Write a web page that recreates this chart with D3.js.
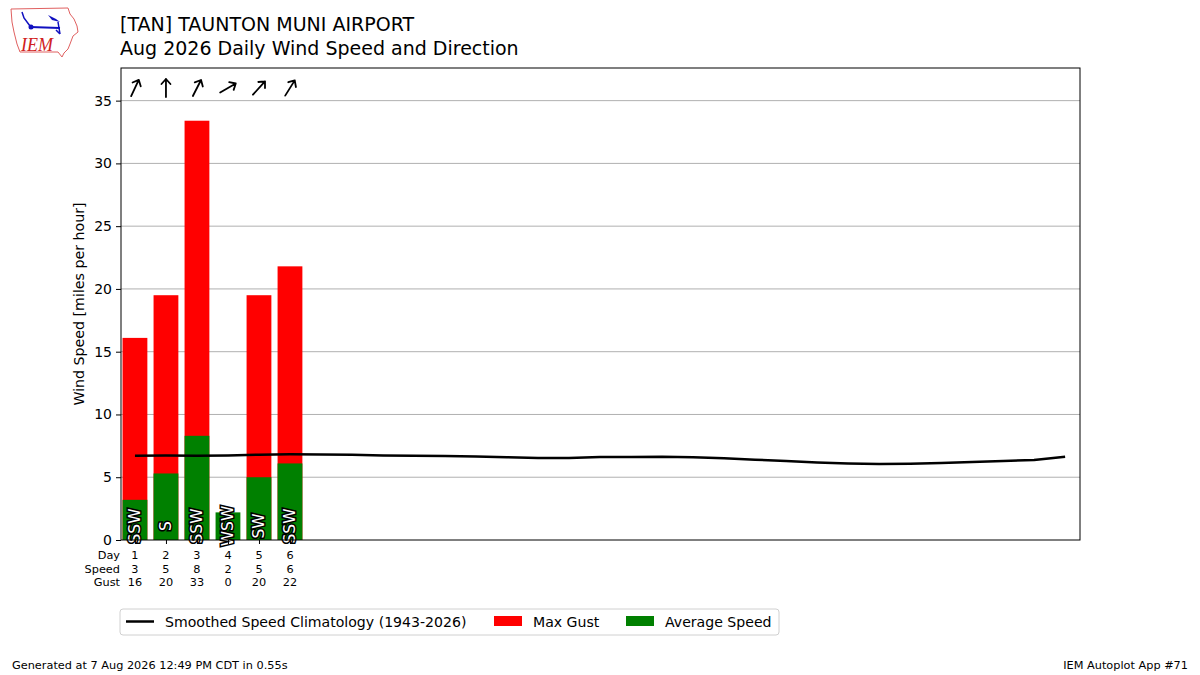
<!DOCTYPE html>
<html>
<head>
<meta charset="utf-8">
<script src="https://cdn.jsdelivr.net/npm/d3@7"></script>
<style>
  body { margin: 0; background: #fff; }
  svg { font-family: "DejaVu Sans", sans-serif; }
</style>
</head>
<body>
<svg id="chart" width="1200" height="675"></svg>
<script>
// données
const days = [1, 2, 3, 4, 5, 6];
const avgSpeed = [3.2, 5.3, 8.3, 2.2, 5.0, 6.1];
const maxGust = [16.1, 19.5, 33.4, 0, 19.5, 21.8];
const dirFrom = [205, 180, 207, 240, 222, 212];
const dirText = ["SSW", "S", "SSW", "WSW", "SW", "SSW"];
const speedLabels = ["3", "5", "8", "2", "5", "6"];
const gustLabels = ["16", "20", "33", "0", "20", "22"];

const climoDays = d3.range(1, 32);
const climoSpeed = [6.72, 6.74, 6.71, 6.74, 6.79, 6.83, 6.82, 6.79, 6.74, 6.71,
                    6.70, 6.66, 6.60, 6.54, 6.54, 6.62, 6.62, 6.64, 6.60, 6.52,
                    6.40, 6.30, 6.18, 6.10, 6.06, 6.08, 6.14, 6.22, 6.30, 6.38, 6.64];

const yTicks = [0, 5, 10, 15, 20, 25, 30, 35];

const svg = d3.select("#chart");
const margin = { top: 68, bottom: 135, left: 121, right: 120 };
const width = 1200, height = 675;

const x = d3.scaleLinear()
  .domain([0.55, 31.48])
  .range([margin.left, width - margin.right]);

const y = d3.scaleLinear()
  .domain([0, 37.6])
  .range([height - margin.bottom, margin.top]);

const barW = x(1.4) - x(0.6);

// grille
svg.append("g")
  .selectAll("line")
  .data(yTicks.slice(1))
  .join("line")
  .attr("x1", x.range()[0]).attr("x2", x.range()[1])
  .attr("y1", d => y(d)).attr("y2", d => y(d))
  .attr("stroke", "#b0b0b0").attr("stroke-width", 1);

// barres : rafale puis vitesse moyenne par-dessus
svg.append("g")
  .selectAll("rect")
  .data(days)
  .join("rect")
  .attr("x", (d, i) => x(d) - barW / 2)
  .attr("y", (d, i) => y(maxGust[i]))
  .attr("width", barW)
  .attr("height", (d, i) => y(0) - y(maxGust[i]))
  .attr("fill", "#ff0000");

svg.append("g")
  .selectAll("rect")
  .data(days)
  .join("rect")
  .attr("x", (d, i) => x(d) - barW / 2)
  .attr("y", (d, i) => y(avgSpeed[i]))
  .attr("width", barW)
  .attr("height", (d, i) => y(0) - y(avgSpeed[i]))
  .attr("fill", "#008000");

// climatologie
const line = d3.line()
  .x((d, i) => x(climoDays[i]))
  .y(d => y(d));

svg.append("path")
  .datum(climoSpeed)
  .attr("d", line)
  .attr("fill", "none")
  .attr("stroke", "#000")
  .attr("stroke-width", 2.5)
  .attr("stroke-linejoin", "round");

// texte de direction
svg.append("g")
  .selectAll("text")
  .data(days)
  .join("text")
  .attr("transform", d => `translate(${x(d)},${y(0) - 14}) rotate(-90)`)
  .attr("text-anchor", "middle")
  .attr("dominant-baseline", "central")
  .attr("font-size", 15.5)
  .attr("fill", "#fff")
  .attr("stroke", "#000")
  .attr("stroke-width", 3)
  .attr("paint-order", "stroke")
  .text((d, i) => dirText[i]);

// flèches de direction
svg.append("g")
  .selectAll("path")
  .data(days)
  .join("path")
  .attr("transform", (d, i) => `translate(${x(d)},88) rotate(${dirFrom[i] - 180})`)
  .attr("d", "M0,9 L0,-9 M-4.5,-4 L0,-9 L4.5,-4")
  .attr("fill", "none")
  .attr("stroke", "#000")
  .attr("stroke-width", 1.8)
  .attr("stroke-linecap", "round")
  .attr("stroke-linejoin", "round");

// axes
const yAxis = d3.axisLeft(y).tickValues(yTicks).tickSize(5).tickPadding(4);
svg.append("g")
  .attr("transform", `translate(${x.range()[0]},0)`)
  .call(yAxis)
  .call(g => g.select(".domain").remove())
  .selectAll("text")
  .attr("font-size", 14)
  .attr("font-family", "DejaVu Sans");

const xAxis = d3.axisBottom(x).tickValues(days).tickSize(4).tickFormat("");
svg.append("g")
  .attr("transform", `translate(0,${y(0)})`)
  .call(xAxis)
  .call(g => g.select(".domain").remove());

// cadre
svg.append("rect")
  .attr("x", x.range()[0]).attr("y", y.range()[1])
  .attr("width", x.range()[1] - x.range()[0])
  .attr("height", y.range()[0] - y.range()[1])
  .attr("fill", "none").attr("stroke", "#000").attr("stroke-width", 1);

// lignes Day / Speed / Gust sous l'axe
const rows = [["Day", days.map(String)], ["Speed", speedLabels], ["Gust", gustLabels]];
rows.forEach((r, k) => {
  const yy = y(0) + 19 + k * 13.5;
  svg.append("text")
    .attr("x", x.range()[0] - 1).attr("y", yy)
    .attr("text-anchor", "end").attr("font-size", 11.3)
    .text(r[0]);
  svg.append("g")
    .selectAll("text")
    .data(days)
    .join("text")
    .attr("x", d => x(d)).attr("y", yy)
    .attr("text-anchor", "middle").attr("font-size", 11.3)
    .text((d, i) => r[1][i]);
});

// titre de l'axe Y
svg.append("text")
  .attr("transform", `translate(84,${(y.range()[0] + y.range()[1]) / 2}) rotate(-90)`)
  .attr("text-anchor", "middle")
  .attr("font-size", 14.2)
  .text("Wind Speed [miles per hour]");

// titres
svg.append("text").attr("x", 120).attr("y", 31).attr("font-size", 19)
  .text("[TAN] TAUNTON MUNI AIRPORT");
svg.append("text").attr("x", 120).attr("y", 55).attr("font-size", 19)
  .text("Aug 2026 Daily Wind Speed and Direction");

// légende
const leg = svg.append("g").attr("transform", "translate(120,609)");
leg.append("rect").attr("width", 659).attr("height", 26).attr("rx", 3)
  .attr("fill", "#fff").attr("stroke", "#d0d0d0");
leg.append("line").attr("x1", 6).attr("x2", 34).attr("y1", 12.5).attr("y2", 12.5)
  .attr("stroke", "#000").attr("stroke-width", 2.5);
leg.append("text").attr("x", 45).attr("y", 17.5).attr("font-size", 14.1)
  .text("Smoothed Speed Climatology (1943-2026)");
leg.append("rect").attr("x", 374).attr("y", 7).attr("width", 28).attr("height", 10).attr("fill", "#ff0000");
leg.append("text").attr("x", 413).attr("y", 17.5).attr("font-size", 14.1).text("Max Gust");
leg.append("rect").attr("x", 506).attr("y", 7).attr("width", 28).attr("height", 10).attr("fill", "#008000");
leg.append("text").attr("x", 545).attr("y", 17.5).attr("font-size", 14.1).text("Average Speed");

// pied de page
svg.append("text").attr("x", 12).attr("y", 669).attr("font-size", 11.3)
  .text("Generated at 7 Aug 2026 12:49 PM CDT in 0.55s");
svg.append("text").attr("x", 1188).attr("y", 669).attr("font-size", 11.3)
  .attr("text-anchor", "end").text("IEM Autoplot App #71");

// logo IEM (approximatif)
const logo = svg.append("g");
logo.append("path")
  .attr("d", "M11,9 L68,8 L70,14 L74,19 L77,26 L78,32 L73,36 L70,44 L68,49 L64,53 L62,57 L58,52 L20,52 L17,44 L14,32 L12,22 Z")
  .attr("fill", "none").attr("stroke", "#e06060").attr("stroke-width", 1);
logo.append("line").attr("x1", 30).attr("x2", 60).attr("y1", 27).attr("y2", 28)
  .attr("stroke", "#1010c0").attr("stroke-width", 2);
logo.append("circle").attr("cx", 31).attr("cy", 27).attr("r", 2.5).attr("fill", "#1010c0");
logo.append("path").attr("d", "M48,15 L56,19 L60,22 L52,20 Z").attr("fill", "#1010c0");
logo.append("path").attr("d", "M22,12 L24,18 L30,26 M58,22 L60,34 M56,30 L60,34")
  .attr("fill", "none").attr("stroke", "#1010c0").attr("stroke-width", 1.5);
logo.append("text").attr("x", 21).attr("y", 51).attr("font-size", 18)
  .attr("font-family", "Liberation Serif").attr("font-style", "italic")
  .attr("fill", "#d02020").text("IEM");
</script>
</body>
</html>
